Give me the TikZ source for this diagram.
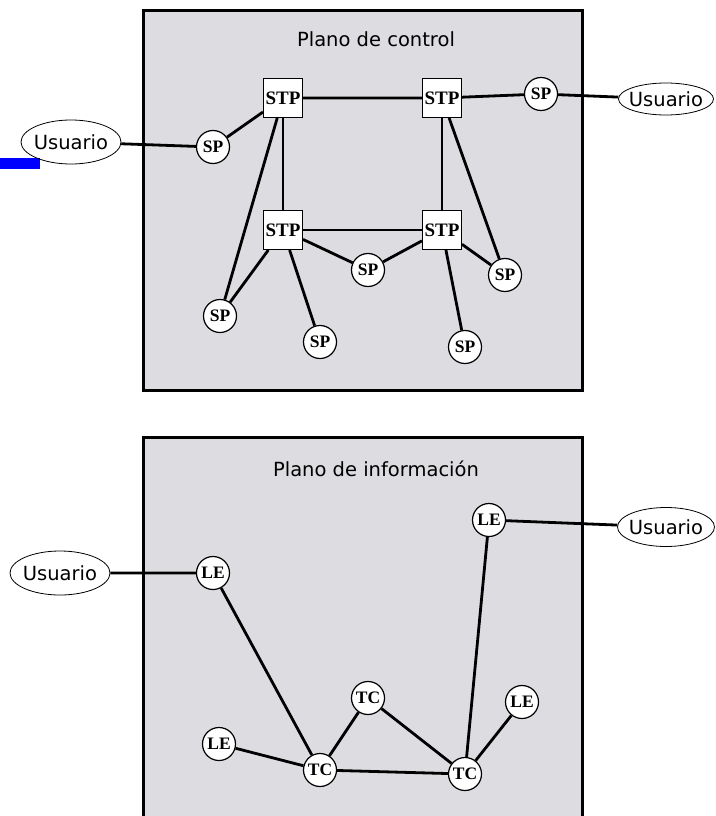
\documentclass[tikz,border=0pt]{standalone}
\usepackage{fontspec}
\setmainfont{DejaVu Sans}
\newfontfamily\serifnodo{Liberation Serif}
\usetikzlibrary{shapes.geometric}
\definecolor{fondoplano}{RGB}{221,220,224}

\begin{document}
\begin{tikzpicture}[
    x=1pt, y=-1pt,
    line width=2.8pt,
    plano/.style={fill=fondoplano, draw=black, line width=3pt},
    stp/.style={draw, fill=white, line width=1pt, minimum size=39pt, inner sep=0pt,
        font=\serifnodo\bfseries\fontsize{19}{19}\selectfont},
    sp/.style={circle, draw, fill=white, line width=1.2pt, minimum size=33pt, inner sep=0pt,
        font=\serifnodo\bfseries\fontsize{17.5}{17.5}\selectfont},
    usuario/.style={ellipse, draw, line width=0.8pt, inner sep=0pt,
        label={[titulo]center:Usuario}},
    titulo/.style={font=\fontsize{19.5}{19.5}\selectfont},
    ]
    \useasboundingbox (0,0) rectangle (715,816);

    % planes
    \draw[plano] (143,11) rectangle (582,390);
    \fill[fondoplano] (143,437) rectangle (582,816);
    \draw[line width=3pt] (143,816) |- (582,437) -- (582,816);
    \fill[blue] (0,158) rectangle (40,169);

    \node[titulo] (tcontrol) at (376,39) {Plano de control};
    \node[titulo] (tinfo) at (376,469) {Plano de información};

    % control plane
    \node[stp] (stpA) at (283,98) {STP};
    \node[stp] (stpB) at (442,98) {STP};
    \node[stp] (stpC) at (283,230) {STP};
    \node[stp] (stpD) at (442,230) {STP};
    \node[sp] (spUsr) at (213,147) {SP};
    \node[sp] (spDer) at (541,94) {SP};
    \node[sp] (spMed) at (368,270) {SP};
    \node[sp] (spLado) at (505,275) {SP};
    \node[sp] (spIzq) at (220,316) {SP};
    \node[sp] (spAbA) at (320,342) {SP};
    \node[sp] (spAbB) at (465,347) {SP};
    \node[usuario, minimum width=100pt, minimum height=44pt] (usrA) at (71,142) {};
    \node[usuario, minimum width=95pt, minimum height=32pt] (usrB) at (666,99) {};

    \draw (usrA) -- (spUsr) -- (stpA) -- (stpB) -- (spDer) -- (usrB);
    \draw (stpA) -- (stpC) -- (stpD) -- (stpB);
    \draw (stpA) -- (spIzq) -- (stpC) -- (spAbA);
    \draw (stpC) -- (spMed) -- (stpD) -- (spAbB);
    \draw (stpD) -- (spLado) -- (stpB);

    % information plane
    \node[sp] (leUsr) at (213,573) {LE};
    \node[sp] (leDer) at (489,520) {LE};
    \node[sp] (leIzq) at (219,744) {LE};
    \node[sp] (leLado) at (522,702) {LE};
    \node[sp] (tcA) at (320,770) {TC};
    \node[sp] (tcB) at (368,698) {TC};
    \node[sp] (tcC) at (465,774) {TC};
    \node[usuario, minimum width=100pt, minimum height=44pt] (usrC) at (60,573) {};
    \node[usuario, minimum width=97pt, minimum height=39pt] (usrD) at (666,527) {};

    \draw (usrC) -- (leUsr) -- (tcA) -- (tcB) -- (tcC) -- (tcA) -- (leIzq);
    \draw (usrD) -- (leDer) -- (tcC) -- (leLado);
\end{tikzpicture}
\end{document}
